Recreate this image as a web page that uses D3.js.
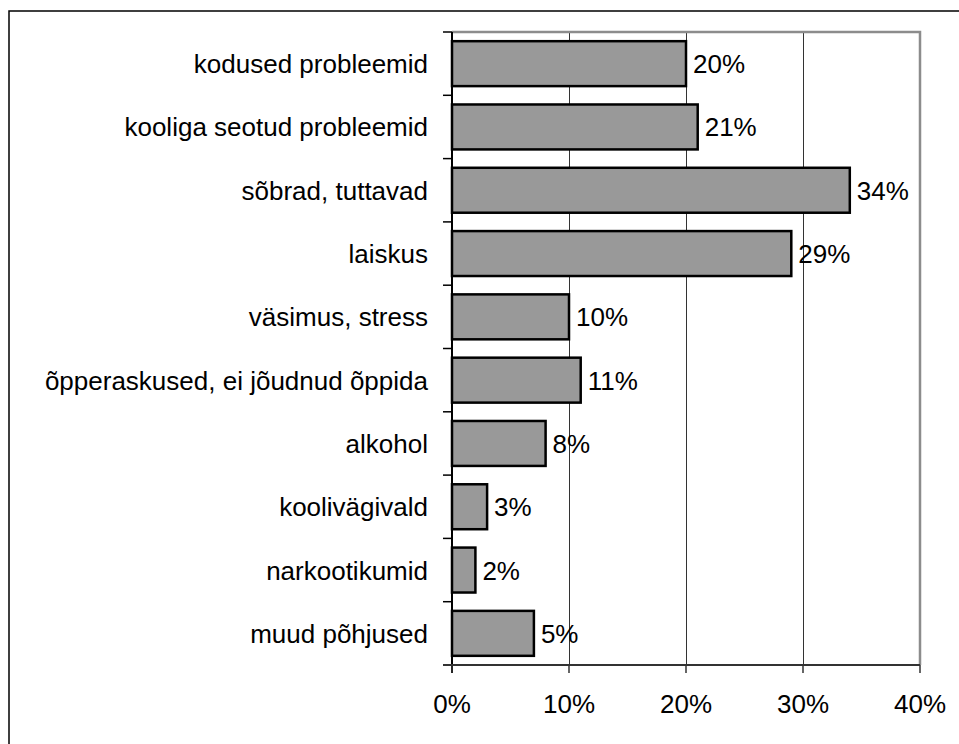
<!DOCTYPE html>
<html>
<head>
<meta charset="utf-8">
<script src="https://cdn.jsdelivr.net/npm/d3@7"></script>
<style>
  body { margin: 0; background: #fff; }
  text { font-family: "Liberation Sans", Arial, sans-serif; font-size: 26px; fill: #000; }
</style>
</head>
<body>
<div id="wrapper"></div>
<script>
// data
const categories = [
    "kodused probleemid",
    "kooliga seotud probleemid",
    "sõbrad, tuttavad",
    "laiskus",
    "väsimus, stress",
    "õpperaskused, ei jõudnud õppida",
    "alkohol",
    "koolivägivald",
    "narkootikumid",
    "muud põhjused"
];
const values = [20, 21, 34, 29, 10, 11, 8, 3, 2, 7];
const valueLabels = ["20%", "21%", "34%", "29%", "10%", "11%", "8%", "3%", "2%", "5%"];
const xTicks = [0, 10, 20, 30, 40];

const drawChart = () => {
    const width = 959;
    const height = 744;

    let dimensions = {
        width: width,
        height: height,
        margin: { top: 32, right: 39, bottom: 79, left: 452 }
    };
    dimensions.boundedWidth = dimensions.width - dimensions.margin.left - dimensions.margin.right;
    dimensions.boundedHeight = dimensions.height - dimensions.margin.top - dimensions.margin.bottom;

    const svg = d3.select("#wrapper")
        .append("svg")
        .attr("width", dimensions.width)
        .attr("height", dimensions.height);

    // outer frame (runs off the right and bottom edges)
    svg.append("rect")
        .attr("x", 9).attr("y", 11)
        .attr("width", 1000).attr("height", 1000)
        .attr("fill", "none")
        .attr("stroke", "#000")
        .attr("stroke-width", 1.5);

    const bounds = svg.append("g")
        .attr("transform", `translate(${dimensions.margin.left},${dimensions.margin.top})`);

    // scales
    const xScale = d3.scaleLinear()
        .domain([0, 40])
        .range([0, dimensions.boundedWidth]);

    const yScale = d3.scaleBand()
        .domain(categories)
        .range([0, dimensions.boundedHeight])
        .paddingInner(0.29)
        .paddingOuter(0.145);

    // gridlines
    bounds.append("g")
        .selectAll("line")
        .data(xTicks.slice(1, -1))
        .enter()
        .append("line")
        .attr("x1", d => xScale(d)).attr("x2", d => xScale(d))
        .attr("y1", 0).attr("y2", dimensions.boundedHeight)
        .attr("stroke", "#333")
        .attr("stroke-width", 1)
        .attr("shape-rendering", "crispEdges");

    // plot frame top / right
    bounds.append("path")
        .attr("d", `M0,0H${dimensions.boundedWidth}V${dimensions.boundedHeight}`)
        .attr("fill", "none")
        .attr("stroke", "#8c8c8c")
        .attr("stroke-width", 2.5);

    // bars
    bounds.append("g")
        .selectAll("rect")
        .data(categories)
        .enter()
        .append("rect")
        .attr("x", xScale(0))
        .attr("y", d => yScale(d))
        .attr("width", (d, i) => xScale(values[i]) - xScale(0))
        .attr("height", yScale.bandwidth())
        .attr("fill", "#999999")
        .attr("stroke", "#000")
        .attr("stroke-width", 2.5);

    // value labels
    bounds.append("g")
        .selectAll("text")
        .data(categories)
        .enter()
        .append("text")
        .attr("x", (d, i) => xScale(values[i]) + 7)
        .attr("y", d => yScale(d) + yScale.bandwidth() / 2 + 9.5)
        .text((d, i) => valueLabels[i]);

    // y axis: ticks at band boundaries
    const step = yScale.step();
    const yBoundaries = d3.range(categories.length + 1).map(i => i * step);
    bounds.append("g")
        .selectAll("line")
        .data(yBoundaries)
        .enter()
        .append("line")
        .attr("x1", -9).attr("x2", 0)
        .attr("y1", d => d).attr("y2", d => d)
        .attr("stroke", "#000")
        .attr("stroke-width", 1.5);

    bounds.append("line")
        .attr("x1", 0).attr("x2", 0)
        .attr("y1", 0).attr("y2", dimensions.boundedHeight + 8)
        .attr("stroke", "#000")
        .attr("stroke-width", 2);

    bounds.append("g")
        .selectAll("text")
        .data(categories)
        .enter()
        .append("text")
        .attr("x", -24)
        .attr("y", d => yScale(d) + yScale.bandwidth() / 2 + 9.5)
        .attr("text-anchor", "end")
        .text(d => d);

    // x axis
    bounds.append("line")
        .attr("x1", -9).attr("x2", dimensions.boundedWidth)
        .attr("y1", dimensions.boundedHeight).attr("y2", dimensions.boundedHeight)
        .attr("stroke", "#333")
        .attr("stroke-width", 2);

    bounds.append("g")
        .selectAll("line")
        .data(xTicks)
        .enter()
        .append("line")
        .attr("x1", d => xScale(d)).attr("x2", d => xScale(d))
        .attr("y1", dimensions.boundedHeight).attr("y2", dimensions.boundedHeight + 8)
        .attr("stroke", "#333")
        .attr("stroke-width", 1.5);

    bounds.append("g")
        .selectAll("text")
        .data(xTicks)
        .enter()
        .append("text")
        .attr("x", d => xScale(d))
        .attr("y", dimensions.boundedHeight + 48)
        .attr("text-anchor", "middle")
        .text(d => d + "%");
};

drawChart();
</script>
</body>
</html>
